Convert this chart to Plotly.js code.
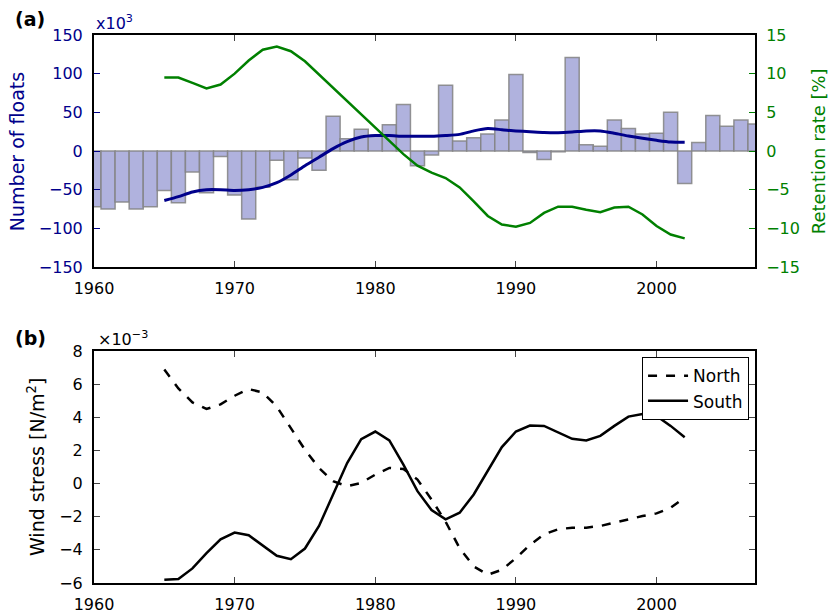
<!DOCTYPE html>
<html>
<head>
<meta charset="utf-8">
<script src="https://cdn.plot.ly/plotly-3.0.1.min.js"></script>
<style>html,body{margin:0;padding:0;background:#fff;}#chart{width:832px;height:615px;}</style>
</head>
<body>
<div id="chart"></div>
<script>
// Panel (a): yearly change in number of floats (x10^3), bars 1960-2007
const barYears = [1960,1961,1962,1963,1964,1965,1966,1967,1968,1969,1970,1971,1972,1973,1974,1975,1976,1977,1978,1979,1980,1981,1982,1983,1984,1985,1986,1987,1988,1989,1990,1991,1992,1993,1994,1995,1996,1997,1998,1999,2000,2001,2002,2003,2004,2005,2006,2007];
const floats = [-72,-75,-66,-75,-72,-51,-67,-27,-54,-7,-57,-88,-47,-12,-37,-9,-25,45,16,28,20,34,60,-19,-5,85,13,17,22,40,99,-2,-11,-1,121,8,6,40,29,22,23,50,-42,11,46,32,40,35];

// Smoothed series 1965-2002
const lineYears = [1965,1966,1967,1968,1969,1970,1971,1972,1973,1974,1975,1976,1977,1978,1979,1980,1981,1982,1983,1984,1985,1986,1987,1988,1989,1990,1991,1992,1993,1994,1995,1996,1997,1998,1999,2000,2001,2002];
const floatsSmooth = [-64,-59,-53,-50,-50,-51,-50,-47,-41,-31,-19,-8,3,12,18,20,20,19,19,19,20,21.5,26,29,27.6,26,25,24,23.7,24.6,26,26,23,19.4,16.4,13.8,11.6,11.2];
const retention = [9.5,9.5,8.8,8.1,8.6,10,11.7,13.1,13.5,12.9,11.6,9.9,8.2,6.5,4.7,3.1,1.4,-0.4,-1.9,-2.8,-3.5,-4.7,-6.5,-8.4,-9.5,-9.8,-9.3,-8,-7.2,-7.2,-7.6,-7.9,-7.3,-7.2,-8.2,-9.7,-10.8,-11.3];

// Panel (b): wind stress (x10^-3 N/m^2)
const north = [6.88,5.74,4.9,4.5,4.78,5.3,5.7,5.5,4.64,3.34,2.04,0.94,0.14,-0.16,0.04,0.54,0.94,0.88,0.24,-0.96,-2.3,-3.9,-5.0,-5.5,-5.2,-4.5,-3.7,-3.06,-2.76,-2.66,-2.66,-2.56,-2.36,-2.12,-1.96,-1.8,-1.46,-0.86];
const south = [-5.8,-5.76,-5.12,-4.2,-3.36,-2.96,-3.12,-3.72,-4.36,-4.56,-3.92,-2.56,-0.66,1.24,2.68,3.14,2.6,1.14,-0.46,-1.6,-2.16,-1.76,-0.66,0.8,2.2,3.14,3.5,3.48,3.08,2.7,2.6,2.88,3.48,4.04,4.2,4.08,3.48,2.8];

const xTicks = [1960,1970,1980,1990,2000];

const BLUE = '#00008B', GREEN = '#008000';
const FONT = 'DejaVu Sans, sans-serif';

const traces = [
  {type:'bar', x:barYears, y:floats, width:1, xaxis:'x', yaxis:'y', showlegend:false,
   marker:{color:'rgb(176,178,222)', line:{color:'rgba(130,130,130,0.85)', width:1.5}}},
  {type:'scatter', mode:'lines', x:lineYears, y:floatsSmooth, xaxis:'x', yaxis:'y', showlegend:false,
   line:{color:BLUE, width:3, shape:'spline', smoothing:0.6}},
  {type:'scatter', mode:'lines', x:lineYears, y:retention, xaxis:'x', yaxis:'y2', showlegend:false,
   line:{color:GREEN, width:2.5}},
  {type:'scatter', mode:'lines', name:'North', x:lineYears, y:north, xaxis:'x2', yaxis:'y3',
   line:{color:'black', width:2.5, dash:'dash'}},
  {type:'scatter', mode:'lines', name:'South', x:lineYears, y:south, xaxis:'x2', yaxis:'y3',
   line:{color:'black', width:2.5}}
];

const axBase = {showgrid:false, zeroline:false, showline:true, linecolor:'black', linewidth:2,
  ticks:'inside', ticklen:6, tickwidth:1, tickfont:{family:FONT, size:16, color:'black'}, ticklabelstandoff:6};

const layout = {
  width:832, height:615,
  margin:{l:94, r:77, t:35, b:32},
  paper_bgcolor:'white', plot_bgcolor:'white',
  font:{family:FONT, size:16, color:'black'},
  bargap:0,
  xaxis: Object.assign({}, axBase, {domain:[0,1], anchor:'y', range:[1960,2007], tickvals:xTicks, mirror:'ticks'}),
  yaxis: Object.assign({}, axBase, {domain:[0.5766,1], anchor:'x', range:[-150,150], dtick:50, tick0:0,
    tickcolor:BLUE, tickfont:{family:FONT, size:16, color:BLUE}, mirror:false}),
  yaxis2: Object.assign({}, axBase, {overlaying:'y', side:'right', anchor:'x', range:[-15,15], dtick:5, tick0:0,
    tickcolor:GREEN, tickfont:{family:FONT, size:16, color:GREEN}}),
  xaxis2: Object.assign({}, axBase, {domain:[0,1], anchor:'y3', range:[1960,2007], tickvals:xTicks, mirror:'ticks'}),
  yaxis3: Object.assign({}, axBase, {domain:[0,0.4234], anchor:'x2', range:[-6,8], dtick:2, tick0:0, mirror:'ticks'}),
  legend:{x:0.991, xanchor:'right', y:0.412, yanchor:'top', xref:'paper', yref:'paper', itemwidth:40,
    bgcolor:'white', bordercolor:'black', borderwidth:1, font:{family:FONT, size:17, color:'black'}},
  annotations:[
    {text:'Number of floats', xref:'paper', yref:'paper', x:-0.1165, y:0.788, xanchor:'center', yanchor:'middle',
     textangle:-90, showarrow:false, font:{family:FONT, size:19, color:BLUE}},
    {text:'Retention rate [%]', xref:'paper', yref:'paper', x:1.0955, y:0.788, xanchor:'center', yanchor:'middle',
     textangle:-90, showarrow:false, font:{family:FONT, size:18, color:GREEN}},
    {text:'Wind stress [N/m<sup>2</sup>]', xref:'paper', yref:'paper', x:-0.0877, y:0.2117, xanchor:'center', yanchor:'middle',
     textangle:-90, showarrow:false, font:{family:FONT, size:19, color:'black'}},
    {text:'x10<sup>3</sup>', xref:'paper', yref:'paper', x:0.0, y:1.0, xanchor:'left', yanchor:'bottom',
     showarrow:false, font:{family:FONT, size:16, color:BLUE}},
    {text:'×10<sup>−3</sup>', xref:'paper', yref:'paper', x:0.003, y:0.4234, xanchor:'left', yanchor:'bottom',
     showarrow:false, font:{family:FONT, size:16, color:'black'}},
    {text:'<b>(a)</b>', xref:'paper', yref:'paper', x:-0.0968, y:1.0292, xanchor:'center', yanchor:'middle',
     showarrow:false, font:{family:FONT, size:19, color:'black'}},
    {text:'<b>(b)</b>', xref:'paper', yref:'paper', x:-0.0968, y:0.447, xanchor:'center', yanchor:'middle',
     showarrow:false, font:{family:FONT, size:19, color:'black'}}
  ]
};

Plotly.newPlot('chart', traces, layout, {displayModeBar:false, staticPlot:true});
</script>
</body>
</html>
